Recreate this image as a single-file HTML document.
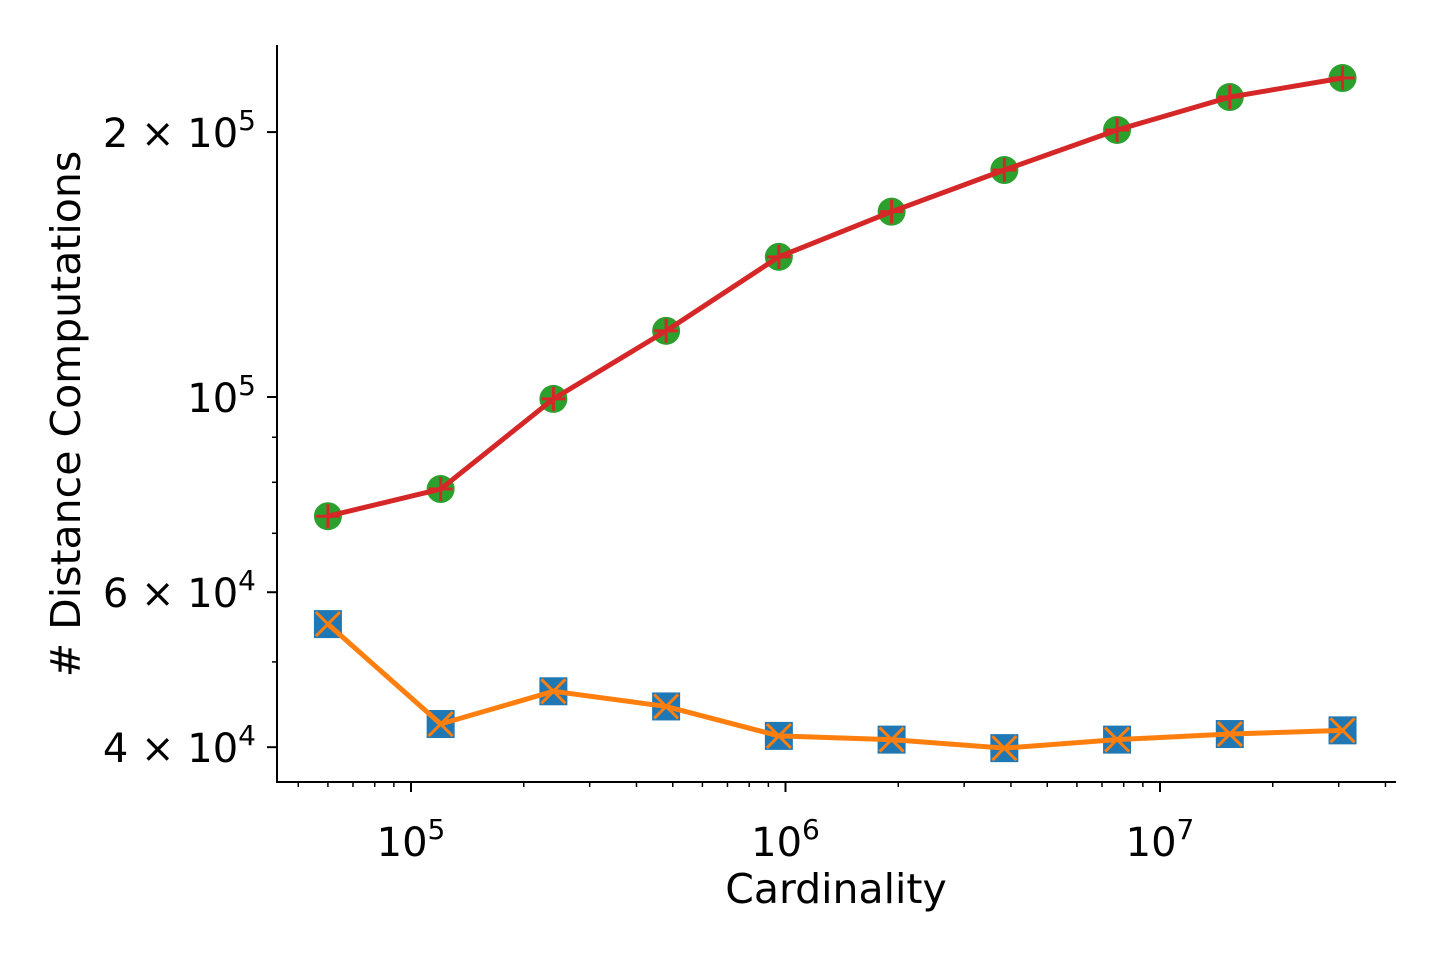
<!DOCTYPE html>
<html><head><meta charset="utf-8"><style>
html,body{margin:0;padding:0;background:#fff;}
svg{display:block;font-family:"DejaVu Sans","Liberation Sans",sans-serif;}
</style></head><body>
<svg id="chart" width="1440" height="960" viewBox="0 0 1440 960" xmlns="http://www.w3.org/2000/svg"></svg>
<script>
const cardinality = [60000,120000,240000,480000,960000,1920000,3840000,7680000,15360000,30720000];
const seriesTop = [73200,78600,99500,118900,144300,162400,181100,201100,219200,230400];
const seriesBottom = [55200,42500,46300,44500,41200,40800,39900,40800,41400,41800];
const xMajorTicks = [1e5,1e6,1e7];
const yTicks = [40000,60000,100000,200000];
const yTickLabels = [["4","4"],["6","4"],[null,"5"],["2","5"]];

const svg=document.getElementById('chart');
const NS='http://www.w3.org/2000/svg';
function X(v){return 411+(Math.log10(v)-5)*374.5;}
function Y(v){return 397-(Math.log10(v)-5)*880;}
function mk(t,a,p){const e=document.createElementNS(NS,t);for(const k in a)e.setAttribute(k,a[k]);(p||svg).appendChild(e);return e;}

const axes=mk('g',{});


const yaxis=mk('line',{x1:277,y1:45,x2:277,y2:782,stroke:'#000','stroke-width':2},axes);


const xaxis=mk('line',{x1:276,y1:782,x2:1396,y2:782,stroke:'#000','stroke-width':2},axes);



for(let d=4;d<=7;d++){for(let m=1;m<=9;m++){const v=m*Math.pow(10,d);const x=X(v);if(x<278||x>1395)continue;
 const major=m===1;mk('line',{x1:x,y1:782,x2:x,y2:782+(major?10:5),stroke:'#000','stroke-width':major?2:1.5},axes);}}
xMajorTicks.forEach(v=>{const t=mk('text',{x:X(v),y:856,'font-size':40,'text-anchor':'middle'},axes);
 
 
 t.innerHTML='10<tspan dy="-17" font-size="28">'+Math.round(Math.log10(v))+'</tspan>';});
[50000,70000,80000,90000].forEach(v=>mk('line',{x1:272,y1:Y(v),x2:277,y2:Y(v),stroke:'#000','stroke-width':1.5},axes));
yTicks.forEach((v,i)=>{const y=Y(v);mk('line',{x1:267,y1:y,x2:277,y2:y,stroke:'#000','stroke-width':2},axes);
 const t=mk('text',{x:256,y:y+15,'font-size':40,'text-anchor':'end'},axes);
 
 
 const l=yTickLabels[i];
 t.innerHTML=(l[0]?l[0]+' \u00d7 ':'')+'10<tspan dy="-17" font-size="28">'+l[1]+'</tspan>';});
const xl=mk('text',{x:836,y:903,'font-size':41,'text-anchor':'middle'});xl.textContent='Cardinality';


const yl=mk('text',{x:0,y:0,'font-size':41,'text-anchor':'middle',transform:'translate(80,414) rotate(-90)'});yl.textContent='# Distance Computations';



function drawSeries(vals,name,markerColor,lineColor,shape,cross){
 const g=mk('g',{});
 
 
 vals.forEach((v,i)=>{const x=X(cardinality[i]),y=Y(v);
  if(shape==='circle')mk('circle',{cx:x,cy:y,r:14,fill:markerColor},g);
  else mk('rect',{x:x-14.5,y:y-14.5,width:29,height:29,fill:markerColor,stroke:'#fff','stroke-width':1},g);});
 const pts=vals.map((v,i)=>X(cardinality[i])+','+Y(v)).join(' ');
 mk('polyline',{points:pts,fill:'none',stroke:lineColor,'stroke-width':5},g);
 vals.forEach((v,i)=>{const x=X(cardinality[i]),y=Y(v);
  if(cross==='plus'){mk('path',{d:`M${x-12},${y}H${x+12}M${x},${y-12}V${y+12}`,stroke:lineColor,'stroke-width':3},g);}
  else{mk('path',{d:`M${x-12},${y-12}L${x+12},${y+12}M${x-12},${y+12}L${x+12},${y-12}`,stroke:lineColor,'stroke-width':3},g);}});
}
drawSeries(seriesTop,'series-top','#2ca02c','#d62728','circle','plus');
drawSeries(seriesBottom,'series-bottom','#1f77b4','#ff7f0e','square','x');
</script>
</body></html>
